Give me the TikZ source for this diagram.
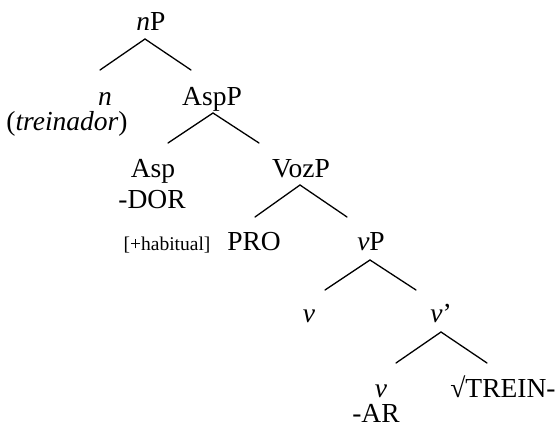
\documentclass[tikz,border=0pt]{standalone}
\usepackage{fontspec}
\setmainfont{Liberation Serif}[ItalicFont={Liberation Serif Italic}]
\tikzset{
  lab/.style={anchor=base, inner sep=0pt, font=\fontsize{27.5}{30}\selectfont},
  smalllab/.style={anchor=base, inner sep=0pt, font=\fontsize{19.5}{22}\selectfont},
  branch/.style={line width=1.3pt, line cap=round}
}
\begin{document}
\begin{tikzpicture}[x=1pt, y=-1pt]
\useasboundingbox (0,0) rectangle (557,428);
% labels
\node[lab] (nP) at (151,31) {\textit{n}P};
\node[lab] (n) at (105,105) {\textit{n}};
\node[lab] (trein) at (67,130) {(\textit{treinador})};
\node[lab] (AspP) at (212,105) {AspP};
\node[lab] (Asp) at (153,177) {Asp};
\node[lab] (dor) at (152,208) {-DOR};
\node[smalllab] (hab) at (167,250) {[+habitual]};
\node[lab] (VozP) at (301,177) {VozP};
\node[lab] (PRO) at (254,250) {PRO};
\node[lab] (vP) at (371,250) {\textit{v}P};
\node[lab] (v1) at (309,322) {\textit{v}};
\node[lab] (vbar) at (441,322) {\textit{v}’};
\node[lab] (v2) at (381,397) {\textit{v}};
\node[lab, text depth=0pt] (ar) at (376,422) {-AR};
\node[lab] (root) at (503,397) {√TREIN-};
% branch points
\coordinate (a1) at (145,39);  \coordinate (l1) at (100,70);  \coordinate (r1) at (191,70);
\coordinate (a2) at (213,113); \coordinate (l2) at (168,143); \coordinate (r2) at (259,143);
\coordinate (a3) at (300,185); \coordinate (l3) at (255,217); \coordinate (r3) at (347,217);
\coordinate (a4) at (370,260); \coordinate (l4) at (325,290); \coordinate (r4) at (416,290);
\coordinate (a5) at (441,332); \coordinate (l5) at (396,363); \coordinate (r5) at (487,363);
\draw[branch] (l1) -- (a1) -- (r1);
\draw[branch] (l2) -- (a2) -- (r2);
\draw[branch] (l3) -- (a3) -- (r3);
\draw[branch] (l4) -- (a4) -- (r4);
\draw[branch] (l5) -- (a5) -- (r5);
\end{tikzpicture}
\end{document}
